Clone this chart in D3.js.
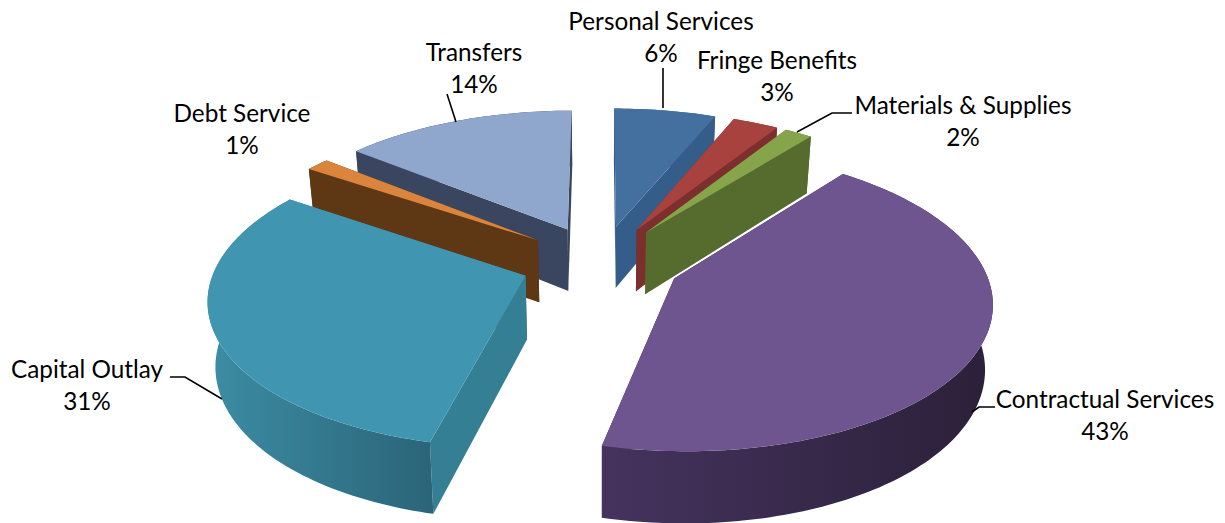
<!DOCTYPE html>
<html><head><meta charset="utf-8">
<script src="https://cdn.jsdelivr.net/npm/d3@7"></script>
<style>html,body{margin:0;padding:0;background:#fff}svg{display:block}text{font-family:Lato,"Open Sans",sans-serif;font-size:24.3px;fill:#000}</style>
</head><body><div id="c"></div>
<script>
const categories = ["Personal Services","Fringe Benefits","Materials & Supplies","Contractual Services","Capital Outlay","Debt Service","Transfers"];
const shares = [6.2,2.8,1.7,43,30.7,1.45,14.15];
const percentLabels = ["6%","3%","2%","43%","31%","1%","14%"];
const topColors = ["#44709f","#a8423f","#86a44a","#6f5590","#4096b0","#db843d","#8fa6cd"];
const startCutColors = ["#355d8a","#7c2f2d","#566b2e","#3d2d55","#357f94","#5e3714","#3a4660"];
const endCutColors = ["#355d8a","#7c2f2d","#566b2e","#3d2d55","#357f94","#5e3714","#3a4660"];
const wallLeft = ["#355d8a","#7c2f2d","#566b2e","#45335e","#3c8da4","#5e3714","#3a4660"];
const wallRight = ["#355d8a","#7c2f2d","#566b2e","#2b2039","#2b6478","#5e3714","#3a4660"];
const paintOrder = [6,5,4,0,1,2,3];
const labelX = [661,777,963,1105,87,242,474];
const labelY = [30,69,114,408,378,122,61];
const leaders = [[[663,68],[663,108]],[[852,113],[832,113],[797,132]],[[995,407],[979,407],[972,412]],[[170,377],[185,377],[222,399]],[[447,94],[456,122]]];

const W=1225,H=523,cx=601,cy=262,R=309,E=80,K=0.465,P=0.00045,LEAN=0.98,TAU=Math.PI*2;
const svg=d3.select("#c").append("svg").attr("width",W).attr("height",H);
const defs=svg.append("defs");
const pie=d3.pie().sort(null).value(d=>d).startAngle(0).endAngle(TAU);
const arcs=pie(shares);
const project=(X,Y)=>{const s=1/(1+P*Y);return {x:cx+X*s,y:cy-K*Y*s,s};};
const wall=s=>63+(s-1)*50;
const line=d3.line().x(d=>d.x).y(d=>d.y);
const closed=p=>line(p)+"Z";
paintOrder.forEach(i=>{
  const a=arcs[i],mid=(a.startAngle+a.endAngle)/2;
  const ox=E*Math.sin(mid),oy=E*Math.cos(mid);
  const n=Math.max(2,Math.ceil((a.endAngle-a.startAngle)/0.02));
  const angles=d3.range(n+1).map(k=>a.startAngle+(a.endAngle-a.startAngle)*k/n);
  const rim=angles.map(t=>project(ox+R*Math.sin(t),oy+R*Math.cos(t)));
  const apex=project(ox,oy);
  const down=p=>({x:cx+(p.x-cx)*LEAN,y:p.y+wall(p.s)});
  const g=svg.append("g").attr("class","slice");
  const first=rim[0],last=rim[n];
  g.append("path").attr("d",closed([apex,first,down(first),down(apex)])).attr("fill",startCutColors[i]);
  g.append("path").attr("d",closed([apex,last,down(last),down(apex)])).attr("fill",endCutColors[i]);
  const gid="w"+i,gr=defs.append("linearGradient").attr("id",gid);
  gr.append("stop").attr("offset",0).attr("stop-color",wallLeft[i]);
  gr.append("stop").attr("offset",1).attr("stop-color",wallRight[i]);
  g.append("path").attr("d",closed(rim.concat(rim.map(down).reverse()))).attr("fill",`url(#${gid})`);
  g.append("path").attr("d",closed([apex].concat(rim))).attr("fill",topColors[i]);
});
leaders.forEach(l=>{
  svg.append("path").attr("d",d3.line()(l)).attr("fill","none").attr("stroke","#000").attr("stroke-width",1.6);
});
categories.forEach((c,i)=>{
  const t=svg.append("text").attr("text-anchor","middle");
  t.append("tspan").attr("x",labelX[i]).attr("y",labelY[i]).text(c);
  t.append("tspan").attr("x",labelX[i]).attr("y",labelY[i]+32).text(percentLabels[i]);
});
</script></body></html>
